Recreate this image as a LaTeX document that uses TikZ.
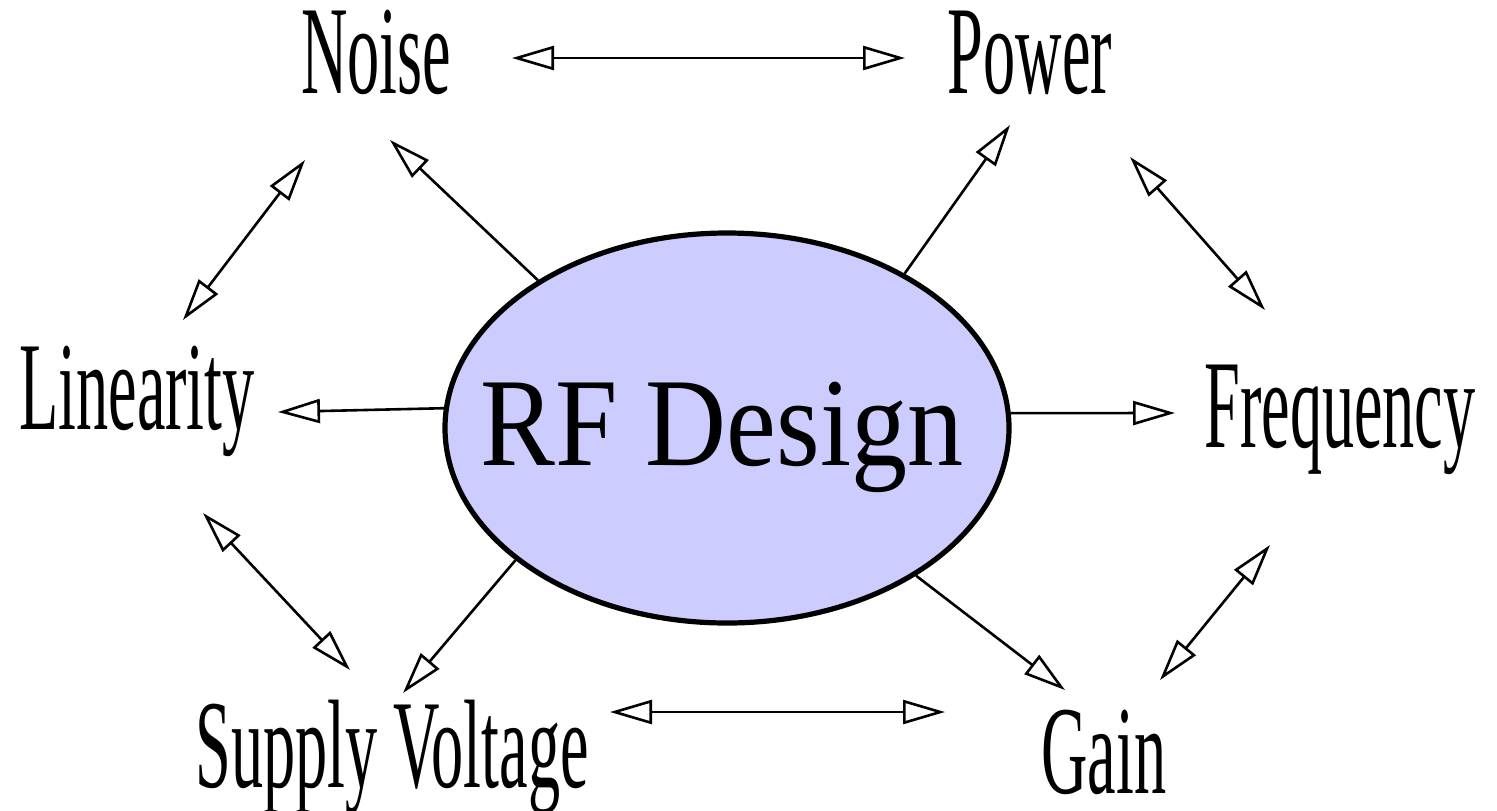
\documentclass[tikz,border=0pt]{standalone}
\usepackage{fontspec}
\setmainfont{Liberation Serif}
\usepackage{graphicx}
\usepackage{tikz}
\usetikzlibrary{arrows.meta,shapes.geometric}
\tikzset{every node/.style={font=\fontsize{63}{70}\selectfont}}
\colorlet{ovalcol}{blue!20!white}
\colorlet{linkcol}{black}
\colorlet{textcol}{black}

\begin{document}
\begin{tikzpicture}[x=0.5pt, y=-0.5pt, line width=1.3pt,
  >={Triangle[open, length=21pt, width=12pt]}]

  \useasboundingbox (0,0) rectangle (1497,810);

  % Central oval.
  \node[ellipse, draw=black, line width=2.6pt, fill=ovalcol, inner sep=0pt,
    minimum width=282pt, minimum height=195pt] (rf) at (727,428) {};
  \node[anchor=base, text=textcol] (rftext) at (722,465)
    {\scalebox{0.89}[1]{RF Design}};

  % Labels.
  \node[anchor=base, text=textcol] (noise) at (376,93) {\scalebox{0.51}[1]{Noise}};
  \node[anchor=base, text=textcol] (power) at (1030,93) {\scalebox{0.51}[1]{Power}};
  \node[anchor=base, text=textcol] (linearity) at (137,429) {\scalebox{0.51}[1]{Linearity}};
  \node[anchor=base, text=textcol] (frequency) at (1340,447) {\scalebox{0.51}[1]{Frequency}};
  \node[anchor=base, text=textcol] (supply) at (392,787) {\scalebox{0.51}[1]{Supply Voltage}};
  \node[anchor=base, text=textcol] (gain) at (1104,793) {\scalebox{0.51}[1]{Gain}};

  % Arrow ends.
  \coordinate (noiseTip) at (390,140);
  \coordinate (powerTip) at (1010,125);
  \coordinate (linTip) at (278,412);
  \coordinate (freqTip) at (1175,413);
  \coordinate (supplyTip) at (403,693);
  \coordinate (gainTip) at (1065,690);

  \coordinate (noiseRight) at (512,58);
  \coordinate (powerLeft) at (905,58);
  \coordinate (noiseLow) at (305,160);
  \coordinate (linHigh) at (183,320);
  \coordinate (powerLow) at (1130,157);
  \coordinate (freqHigh) at (1265,310);
  \coordinate (linLow) at (203,513);
  \coordinate (supplyHigh) at (350,670);
  \coordinate (freqLow) at (1270,545);
  \coordinate (gainHigh) at (1160,680);
  \coordinate (supplyRight) at (610,712);
  \coordinate (gainLeft) at (945,712);

  % Arrows out of the oval.
  \draw[->, linkcol] (rf.142.5) -- (noiseTip);
  \draw[->, linkcol] (rf.41.5) -- (powerTip);
  \draw[->, linkcol] (rf.176.8) -- (linTip);
  \draw[->, linkcol] (rf.3) -- (freqTip);
  \draw[->, linkcol] (rf.212) -- (supplyTip);
  \draw[->, linkcol] (rf.322.7) -- (gainTip);

  % Trade-offs round the ring.
  \draw[<->, linkcol] (noiseRight) -- (powerLeft);
  \draw[<->, linkcol] (noiseLow) -- (linHigh);
  \draw[<->, linkcol] (powerLow) -- (freqHigh);
  \draw[<->, linkcol] (linLow) -- (supplyHigh);
  \draw[<->, linkcol] (freqLow) -- (gainHigh);
  \draw[<->, linkcol] (supplyRight) -- (gainLeft);

\end{tikzpicture}
\end{document}
